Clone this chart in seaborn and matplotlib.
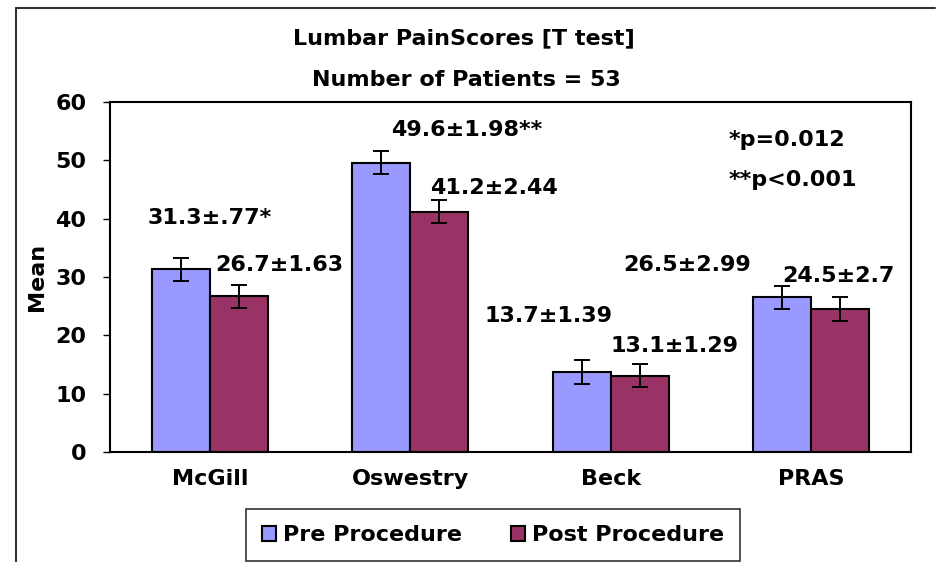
import matplotlib
matplotlib.use("Agg")
import matplotlib.pyplot as plt
from matplotlib.lines import Line2D
from matplotlib.patches import Patch
import seaborn as sns
import pandas as pd

# ---- data ----
categories = ["McGill", "Oswestry", "Beck", "PRAS"]
pre_values = [31.3, 49.6, 13.7, 26.5]
post_values = [26.7, 41.2, 13.1, 24.5]
pre_err = [2.0, 2.0, 2.0, 2.0]
post_err = [2.0, 2.0, 2.0, 2.0]
series_names = ["Pre Procedure", "Post Procedure"]
pre_labels = ["31.3\u00b1.77*", "49.6\u00b11.98**", "13.7\u00b11.39", "26.5\u00b12.99"]
post_labels = ["26.7\u00b11.63", "41.2\u00b12.44", "13.1\u00b11.29", "24.5\u00b12.7"]
y_ticks = [0, 10, 20, 30, 40, 50, 60]
title = "Lumbar PainScores [T test]"
subtitle = "Number of Patients = 53"
p_notes = ["*p=0.012", "**p<0.001"]

colors = ["#9999FF", "#993366"]

sns.set_style("white")
plt.rcParams["font.family"] = ["DejaVu Sans"]
plt.rcParams["font.weight"] = "bold"
plt.rcParams["text.color"] = "black"
plt.rcParams["axes.labelcolor"] = "black"
plt.rcParams["xtick.color"] = "black"
plt.rcParams["ytick.color"] = "black"

df = pd.DataFrame({
    "Scale": categories * 2,
    "Mean": pre_values + post_values,
    "Phase": [series_names[0]] * len(categories) + [series_names[1]] * len(categories),
})

fig = plt.figure(figsize=(9.37, 5.62), dpi=100)
ax = fig.add_axes([110 / 937, 1 - 452 / 562, (911 - 110) / 937, (452 - 102) / 562])

sns.barplot(data=df, x="Scale", y="Mean", hue="Phase", hue_order=series_names,
            order=categories, palette=colors, saturation=1, width=0.58,
            edgecolor="black", linewidth=1.5, errorbar=None, legend=False, ax=ax)

for container, errs in zip(ax.containers, [pre_err, post_err]):
    xs = [b.get_x() + b.get_width() / 2 for b in container]
    ys = [b.get_height() for b in container]
    ax.errorbar(xs, ys, yerr=errs, fmt="none", ecolor="black", elinewidth=1.4,
                capsize=6, capthick=1.4, zorder=5)

ax.set_xlim(-0.5, len(categories) - 0.5)
ax.set_ylim(0, 60)
ax.set_yticks(y_ticks)
ax.set_yticklabels([str(t) for t in y_ticks], fontsize=16, fontweight="bold")
ax.set_xticklabels(categories, fontsize=16, fontweight="bold")
ax.tick_params(axis="y", direction="out", length=5, width=1, pad=12, left=True,
               colors="black")
ax.tick_params(axis="x", length=0, pad=12, colors="black")
ax.set_xlabel("")
ax.set_ylabel("Mean", fontsize=16, fontweight="bold", labelpad=6, color="black")
for s in ax.spines.values():
    s.set_visible(True)
    s.set_color("black")
    s.set_linewidth(1.5)

# value annotations (data coordinates)
pre_pos = [(0.0, 40.2), (1.28, 55.2), (1.69, 23.3), (2.38, 32.1)]
post_pos = [(0.345, 32.1), (1.415, 45.3), (2.32, 18.2), (3.14, 30.1)]
for (x, y), t in zip(pre_pos, pre_labels):
    ax.text(x, y, t, ha="center", va="center", fontsize=16, fontweight="bold", color="black")
for (x, y), t in zip(post_pos, post_labels):
    ax.text(x, y, t, ha="center", va="center", fontsize=16, fontweight="bold", color="black")
ax.text(2.88, 53.5, p_notes[0], ha="center", va="center", fontsize=16, fontweight="bold", color="black")
ax.text(2.91, 46.6, p_notes[1], ha="center", va="center", fontsize=16, fontweight="bold", color="black")

# titles
fig.text(464 / 937, 1 - 38 / 562, title, ha="center", va="center", fontsize=16,
         fontweight="bold", color="black")
fig.text(466 / 937, 1 - 80 / 562, subtitle, ha="center", va="center", fontsize=16,
         fontweight="bold", color="black")

# legend
handles = [Patch(facecolor=c, edgecolor="black", linewidth=1.5) for c in colors]
leg = fig.legend(handles, series_names, loc="center", bbox_to_anchor=(493 / 937, 1 - 535 / 562),
                 ncol=2, frameon=True, fancybox=False, shadow=False,
                 handlelength=0.65, handleheight=0.65, handletextpad=0.3,
                 columnspacing=2.2, borderpad=0.7, prop={"weight": "bold", "size": 16})
for t in leg.get_texts():
    t.set_color("black")
leg.get_frame().set_edgecolor("black")
leg.get_frame().set_linewidth(1.2)

# outer chart frame (top and left edges)
fig.add_artist(Line2D([16 / 937, 935 / 937], [1 - 8 / 562, 1 - 8 / 562], color="#333333", lw=1.5))
fig.add_artist(Line2D([16 / 937, 16 / 937], [1 - 8 / 562, 0], color="#333333", lw=1.5))

fig.savefig("out.png", dpi=100)
